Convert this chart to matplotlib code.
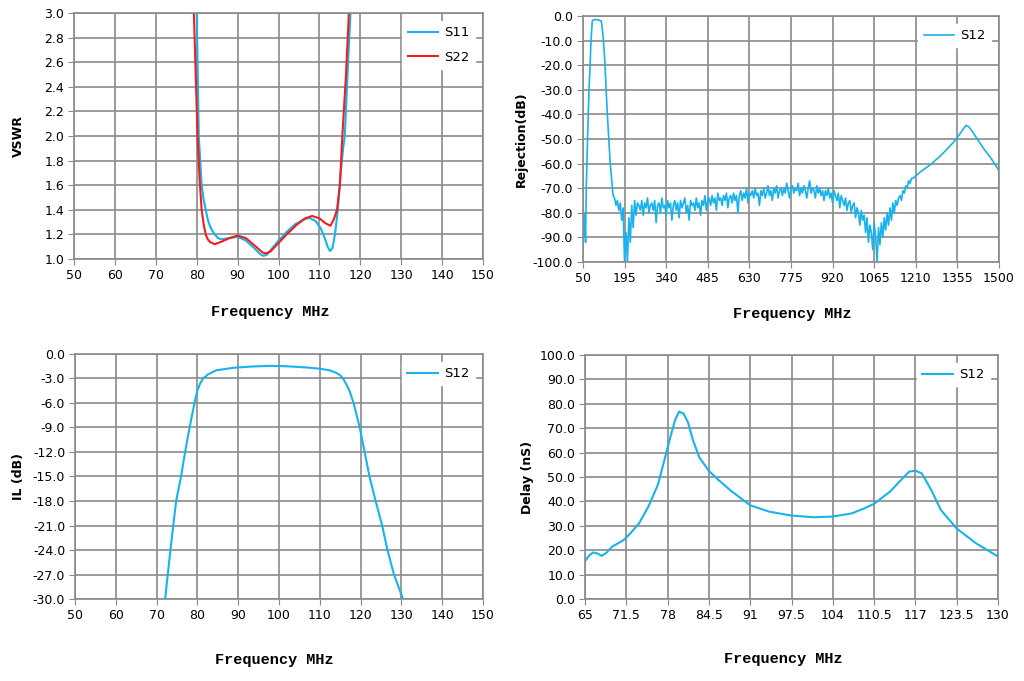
import numpy as np
import matplotlib
matplotlib.use("Agg")
import matplotlib.pyplot as plt
from matplotlib.ticker import FormatStrFormatter

# ---- VSWR (top left) ----
s11_freq = [79.5, 80.0, 80.5, 81.2, 81.7, 82.2, 82.7, 83.2, 83.8, 84.4, 85.2, 86.0, 88.0, 90.0,
            92.0, 94.0, 95.5, 96.3, 97.2, 98.0, 100.0, 102.0, 104.0, 106.0, 107.5, 109.0,
            110.3, 111.3, 112.0, 112.6, 113.2, 113.8, 114.5, 115.2, 115.8, 116.2, 117.0,
            117.6, 118.0]
s11_vswr = [4.0, 3.0, 2.0, 1.6, 1.48, 1.4, 1.32, 1.27, 1.23, 1.2, 1.17, 1.16, 1.17, 1.18,
            1.15, 1.09, 1.04, 1.025, 1.035, 1.07, 1.15, 1.22, 1.28, 1.32, 1.335, 1.31,
            1.25, 1.17, 1.1, 1.065, 1.09, 1.2, 1.4, 1.7, 1.9, 2.0, 2.6, 3.0, 4.0]
s22_freq = [79.0, 79.3, 80.2, 80.7, 81.2, 81.7, 82.2, 82.7, 83.2, 84.4, 86.0, 88.0, 90.0,
            92.0, 94.5, 96.0, 96.8, 98.0, 100.0, 102.0, 104.5, 106.5, 108.2, 110.0, 111.5,
            112.7, 113.5, 114.3, 115.0, 115.6, 116.5, 117.2, 117.6]
s22_vswr = [4.0, 3.0, 2.0, 1.65, 1.4, 1.28, 1.2, 1.16, 1.14, 1.12, 1.14, 1.17, 1.19,
            1.17, 1.1, 1.055, 1.045, 1.06, 1.13, 1.2, 1.28, 1.33, 1.35, 1.33, 1.29,
            1.27, 1.32, 1.4, 1.6, 2.0, 2.5, 3.0, 4.0]

# ---- Rejection (top right) ----
rej_head_freq = [50, 53, 56, 59, 61.5, 66, 71, 75, 78, 82.5, 88, 100, 114, 120, 126, 134, 145, 155]
rej_head_db = [-85, -90, -80, -92, -70, -50, -30, -20, -10, -2, -1.5, -1.5, -2, -8, -18, -38, -60, -73]
rej_low_freq = [160, 165, 170, 175, 180, 185, 190, 195, 200, 205, 210, 215, 220, 225, 230, 235, 240]
rej_low_db = [-74, -77, -75, -79, -76, -83, -78, -100, -88, -100, -82, -92, -77, -86, -75, -81, -76]
rej_mid_db = [
    -77, -79, -75, -81, -76, -78, -74, -80, -77, -76,
    -79, -75, -84, -77, -76, -80, -74, -78, -77, -81,
    -75, -78, -76, -83, -77, -75, -79, -76, -82, -75,
    -78, -76, -74, -80, -77, -83, -75, -77, -76, -79,
    -74, -78, -76, -81, -75, -77, -73, -79, -75, -74,
    -77, -73, -76, -74, -79, -72, -75, -74, -77, -73,
    -75, -72, -78, -74, -73, -76, -72, -75, -73, -80,
    -73, -71, -75, -72, -74, -70, -76, -72, -73, -71,
    -74, -70, -73, -72, -77, -71, -73, -70, -74, -72,
    -69, -73, -71, -75, -70, -72, -69, -74, -71, -70,
    -73, -70, -72, -68, -71, -74, -70, -69, -72, -70,
    -71, -68, -73, -70, -72, -69, -71, -74, -70, -67,
    -72, -70, -71, -74, -69, -72, -70, -73, -71, -75,
    -71, -73, -70, -74, -72, -76, -71, -73, -75, -72,
    -78, -73, -75, -77, -74, -79, -76, -75, -80, -77,
    -76, -82, -78, -80, -85, -79, -83, -81, -88, -82,
    -92, -85, -88, -95, -84, -90, -100, -86, -93, -84,
    -90, -82, -87, -80, -85, -78, -83, -76, -80, -75,
    -77, -74, -73, -75, -71, -72, -69, -70, -67, -68,
    -66, -66]
rej_mid_freq = np.arange(245, 1205, 5)
rej_tail_freq = [1210, 1230, 1260, 1290, 1320, 1340, 1360, 1375, 1385, 1395, 1410, 1430, 1450,
                 1470, 1490, 1500]
rej_tail_db = [-65, -63, -60.5, -57.5, -54, -51.5, -48.5, -46, -44.5, -45, -47.5, -51, -54.5,
               -57.5, -61, -63]

# ---- Insertion loss (bottom left) ----
il_freq = [72.1, 73.4, 74.8, 76.0, 77.0, 78.1, 79.3, 80.0, 80.7, 81.4, 82.6, 84.6, 88.7, 92.8,
           97.7, 101.8, 106.7, 110.0, 112.4, 114.0, 115.0, 115.7, 116.5, 117.3, 118.3, 119.8,
           121.0, 122.2, 123.7, 125.3, 126.6, 128.2, 130.4]
il_db = [-30, -24, -18, -15, -12, -9, -6, -4.5, -3.6, -3, -2.5, -2, -1.7, -1.55,
         -1.45, -1.5, -1.65, -1.8, -2.0, -2.3, -2.6, -3, -3.7, -4.5, -6, -9,
         -12, -15, -18, -21, -24, -27, -30]

# ---- Group delay (bottom right) ----
dly_freq = [65.0, 65.7, 66.3, 67.0, 67.6, 68.3, 69.3, 71.0, 72.0, 73.5, 75.0, 76.5, 77.5, 78.5,
            79.2, 79.8, 80.5, 81.2, 82.0, 83.0, 84.5, 86.0, 88.0, 91.0, 94.0, 97.5, 101.0,
            104.0, 107.0, 109.0, 110.5, 113.0, 115.0, 116.0, 117.0, 118.0, 119.5, 121.0,
            123.5, 126.5, 130.0]
dly_ns = [15.5, 18.0, 19.1, 18.6, 17.7, 18.8, 21.5, 24.0, 26.5, 31.0, 38.0, 47.0, 57.0, 67.0,
          73.5, 76.8, 76.0, 72.5, 65.0, 58.0, 52.5, 48.8, 44.3, 38.4, 35.8, 34.2, 33.5,
          33.8, 35.1, 37.2, 39.0, 44.0, 49.5, 52.2, 52.6, 51.5, 44.7, 36.5,
          28.9, 22.9, 17.4]

CYAN = "#19b2ec"
RED = "#f21d1d"
GRID = "#8a8a8a"

fig = plt.figure(figsize=(10.24, 6.81), dpi=100)
ax_vswr = fig.add_axes([0.0723, 0.6197, 0.3994, 0.3612])
ax_rej = fig.add_axes([0.5693, 0.6153, 0.4063, 0.3612])
ax_il = fig.add_axes([0.0732, 0.1204, 0.3984, 0.3598])
ax_dly = fig.add_axes([0.5713, 0.1204, 0.4033, 0.3583])


def style_axis(ax, ylabel, ylab_x, xlab_xy):
    ax.grid(True, color=GRID, linewidth=1.2)
    ax.set_axisbelow(True)
    for sp in ax.spines.values():
        sp.set_color(GRID)
        sp.set_linewidth(1.2)
    ax.tick_params(direction="out", length=4, color=GRID, labelsize=9, pad=3)
    ax.set_ylabel(ylabel, fontsize=9, fontweight="bold")
    ax.yaxis.set_label_coords(ylab_x, 0.5)
    ax.set_xlabel("Frequency MHz", fontsize=11, fontweight="bold", family="Liberation Mono")
    ax.xaxis.set_label_coords(*xlab_xy)
    leg = ax.legend(loc="upper right", fontsize=9.5, frameon=True, fancybox=False,
                    borderaxespad=0.6, handlelength=2.3, handletextpad=0.5,
                    labelspacing=0.9)
    leg.get_frame().set_edgecolor("white")
    leg.get_frame().set_facecolor("white")
    leg.get_frame().set_alpha(1)


ax_vswr.plot(s11_freq, s11_vswr, color=CYAN, lw=1.5, label="S11")
ax_vswr.plot(s22_freq, s22_vswr, color=RED, lw=1.5, label="S22")
ax_vswr.set_xlim(50, 150)
ax_vswr.set_ylim(1.0, 3.0)
ax_vswr.set_xticks(np.arange(50, 151, 10))
ax_vswr.set_yticks(np.arange(1.0, 3.01, 0.2))
ax_vswr.yaxis.set_major_formatter(FormatStrFormatter("%.1f"))
style_axis(ax_vswr, "VSWR", -0.120, (0.479, -0.187))

rej_freq = np.concatenate([rej_head_freq, rej_low_freq, rej_mid_freq, rej_tail_freq])
rej_db = np.concatenate([rej_head_db, rej_low_db, rej_mid_db, rej_tail_db])
ax_rej.plot(rej_freq, rej_db, color=CYAN, lw=1.2, label="S12")
ax_rej.set_xlim(50, 1500)
ax_rej.set_ylim(-100, 0)
ax_rej.set_xticks(np.arange(50, 1501, 145))
ax_rej.set_yticks(np.arange(-100, 1, 10))
ax_rej.yaxis.set_major_formatter(FormatStrFormatter("%.1f"))
style_axis(ax_rej, "Rejection(dB)", -0.132, (0.502, -0.183))

ax_il.plot(il_freq, il_db, color=CYAN, lw=1.5, label="S12")
ax_il.set_xlim(50, 150)
ax_il.set_ylim(-30, 0)
ax_il.set_xticks(np.arange(50, 151, 10))
ax_il.set_yticks(np.arange(-30, 0.1, 3))
ax_il.yaxis.set_major_formatter(FormatStrFormatter("%.1f"))
style_axis(ax_il, "IL (dB)", -0.122, (0.488, -0.22))

ax_dly.plot(dly_freq, dly_ns, color=CYAN, lw=1.5, label="S12")
ax_dly.set_xlim(65, 130)
ax_dly.set_ylim(0, 100)
ax_dly.set_xticks(np.arange(65, 130.1, 6.5))
ax_dly.set_xticklabels(["65", "71.5", "78", "84.5", "91", "97.5", "104", "110.5",
                        "117", "123.5", "130"])
ax_dly.set_yticks(np.arange(0, 100.1, 10))
ax_dly.yaxis.set_major_formatter(FormatStrFormatter("%.1f"))
style_axis(ax_dly, "Delay (nS)", -0.123, (0.479, -0.217))

fig.savefig("out.png", dpi=100)
